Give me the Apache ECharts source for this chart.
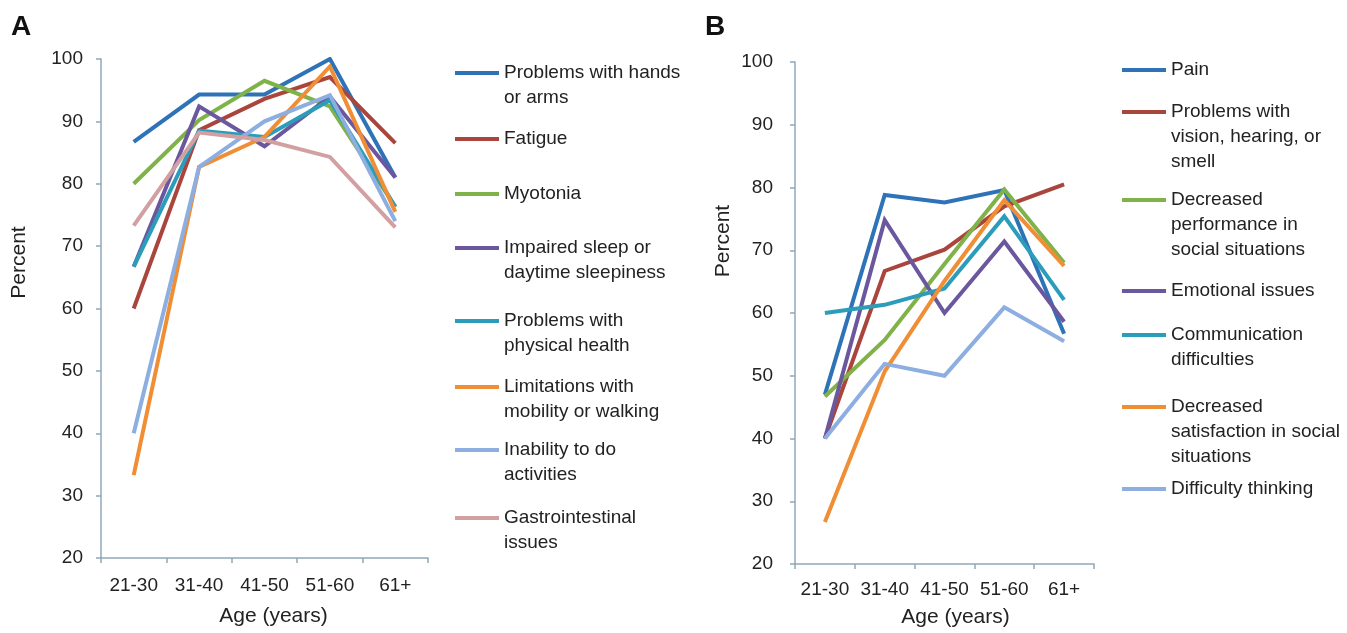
<!DOCTYPE html>
<html><head><meta charset="utf-8">
<script src="https://cdn.jsdelivr.net/npm/echarts@6/dist/echarts.min.js"></script>
<style>html,body{margin:0;padding:0;background:#fff}#c{width:1347px;height:633px}</style>
</head><body><div id="c"></div>
<script>
// ---------- data ----------
const categories = ['21-30', '31-40', '41-50', '51-60', '61+'];
const yTicks = [20, 30, 40, 50, 60, 70, 80, 90, 100];

const namesA = [
  'Problems with hands\nor arms', 'Fatigue', 'Myotonia',
  'Impaired sleep or\ndaytime sleepiness', 'Problems with\nphysical health',
  'Limitations with\nmobility or walking', 'Inability to do\nactivities',
  'Gastrointestinal\nissues'
];
const handsArms   = [86.7, 94.3, 94.3, 100.0, 81.0];
const fatigue     = [60.0, 88.6, 93.6, 97.1, 86.5];
const myotonia    = [80.0, 90.2, 96.5, 92.4, 76.3];
const sleep       = [66.7, 92.4, 86.0, 94.0, 81.0];
const physical    = [66.7, 88.5, 87.5, 93.4, 76.3];
const mobility    = [33.3, 82.7, 87.5, 98.8, 75.5];
const activities  = [40.0, 82.7, 90.0, 94.2, 74.0];
const gastro      = [73.3, 88.2, 87.0, 84.3, 73.0];

const namesB = [
  'Pain', 'Problems with\nvision, hearing, or\nsmell',
  'Decreased\nperformance in\nsocial situations', 'Emotional issues',
  'Communication\ndifficulties', 'Decreased\nsatisfaction in social\nsituations',
  'Difficulty thinking'
];
const pain          = [47.0, 78.8, 77.6, 79.6, 56.7];
const vision        = [40.0, 66.7, 70.1, 77.0, 80.5];
const performance   = [46.7, 55.7, 67.8, 79.7, 68.0];
const emotional     = [40.0, 74.8, 60.0, 71.4, 58.6];
const communication = [60.0, 61.3, 63.9, 75.4, 62.1];
const satisfaction  = [26.7, 50.7, 65.1, 78.0, 67.5];
const thinking      = [40.0, 51.9, 50.0, 60.9, 55.5];

// ---------- styles / layout ----------
const colorsA = ['#2E72B8', '#A9453D', '#80B24A', '#6A579E', '#2B9DBB', '#EF8E35', '#8CAEE0', '#D3A0A2'];
const colorsB = ['#2E72B8', '#A9453D', '#80B24A', '#6A579E', '#2B9DBB', '#EF8E35', '#8CAEE0'];
const legendYA = [73, 139, 194, 248, 321, 387, 450, 518];
const legendYB = [70, 112, 200, 291, 335, 407, 489];
const FONT = 'Liberation Sans, Arial, sans-serif';
const AXIS_COLOR = '#8FA8B8';
const LH = 25;

const valuesA = [handsArms, fatigue, myotonia, sleep, physical, mobility, activities, gastro];
const valuesB = [pain, vision, performance, emotional, communication, satisfaction, thinking];

function xAxis(gridIndex, margin, nameGap, namePad) {
  return {
    type: 'category', gridIndex, data: categories, boundaryGap: true,
    name: 'Age (years)', nameLocation: 'middle', nameGap,
    nameTextStyle: { fontFamily: FONT, fontSize: 21, color: '#222', padding: [0, 0, 0, namePad] },
    axisLine: { lineStyle: { color: AXIS_COLOR, width: 1.5 } },
    axisTick: { show: true, length: 5, lineStyle: { color: AXIS_COLOR, width: 1.5 } },
    axisLabel: { fontFamily: FONT, fontSize: 19, color: '#222', margin, interval: 0 },
    splitLine: { show: false }
  };
}
function yAxis(gridIndex, margin, nameGap, namePad) {
  return {
    type: 'value', gridIndex, min: yTicks[0], max: yTicks[yTicks.length - 1], interval: 10,
    name: 'Percent', nameLocation: 'middle', nameGap, nameRotate: 90,
    nameTextStyle: { fontFamily: FONT, fontSize: 21, color: '#222', padding: [0, 0, 0, namePad] },
    axisLine: { show: true, lineStyle: { color: AXIS_COLOR, width: 1.5 } },
    axisTick: { show: true, length: 5, lineStyle: { color: AXIS_COLOR, width: 1.5 } },
    axisLabel: { fontFamily: FONT, fontSize: 19, color: '#222', margin },
    splitLine: { show: false }
  };
}

const series = [];
const legends = [];
function addPanel(names, values, colors, idx, legendLeft, legendY) {
  names.forEach((n, i) => {
    series.push({
      type: 'line', name: n, xAxisIndex: idx, yAxisIndex: idx, data: values[i],
      symbol: 'none', smooth: false, color: colors[i],
      lineStyle: { width: 4, color: colors[i], join: 'miter' },
      emphasis: { disabled: true }
    });
    const lines = n.split('\n').length;
    const H = (2 * lines - 1) * LH;
    legends.push({
      data: [n], left: legendLeft, top: legendY[i] - H / 2, padding: 0,
      orient: 'vertical', icon: 'rect', itemWidth: 44, itemHeight: 4,
      selectedMode: false,
      // prepend blank lines so that the first text line sits level with the icon
      formatter: (name) => ' \n'.repeat(lines - 1) + name,
      textStyle: { fontFamily: FONT, fontSize: 19, color: '#222', lineHeight: LH }
    });
  });
}
addPanel(namesA, valuesA, colorsA, 0, 455, legendYA);
addPanel(namesB, valuesB, colorsB, 1, 1122, legendYB);

const chart = echarts.init(document.getElementById('c'), null, { renderer: 'canvas' });
chart.setOption({
  backgroundColor: '#fff',
  animation: false,
  grid: [
    { left: 101, top: 59, width: 327, height: 499 },
    { left: 795, top: 62, width: 299, height: 505 }
  ],
  xAxis: [xAxis(0, 18, 48, 18), xAxis(1, 16, 43, 22)],
  yAxis: [yAxis(0, 18, 71, 92), yAxis(1, 22, 61, 144)],
  legend: legends,
  series,
  graphic: [
    { type: 'text', left: 11, top: 13, style: { text: 'A', font: 'bold 28px ' + FONT, fill: '#111' } },
    { type: 'text', left: 705, top: 13, style: { text: 'B', font: 'bold 28px ' + FONT, fill: '#111' } }
  ]
});
</script>
</body></html>
